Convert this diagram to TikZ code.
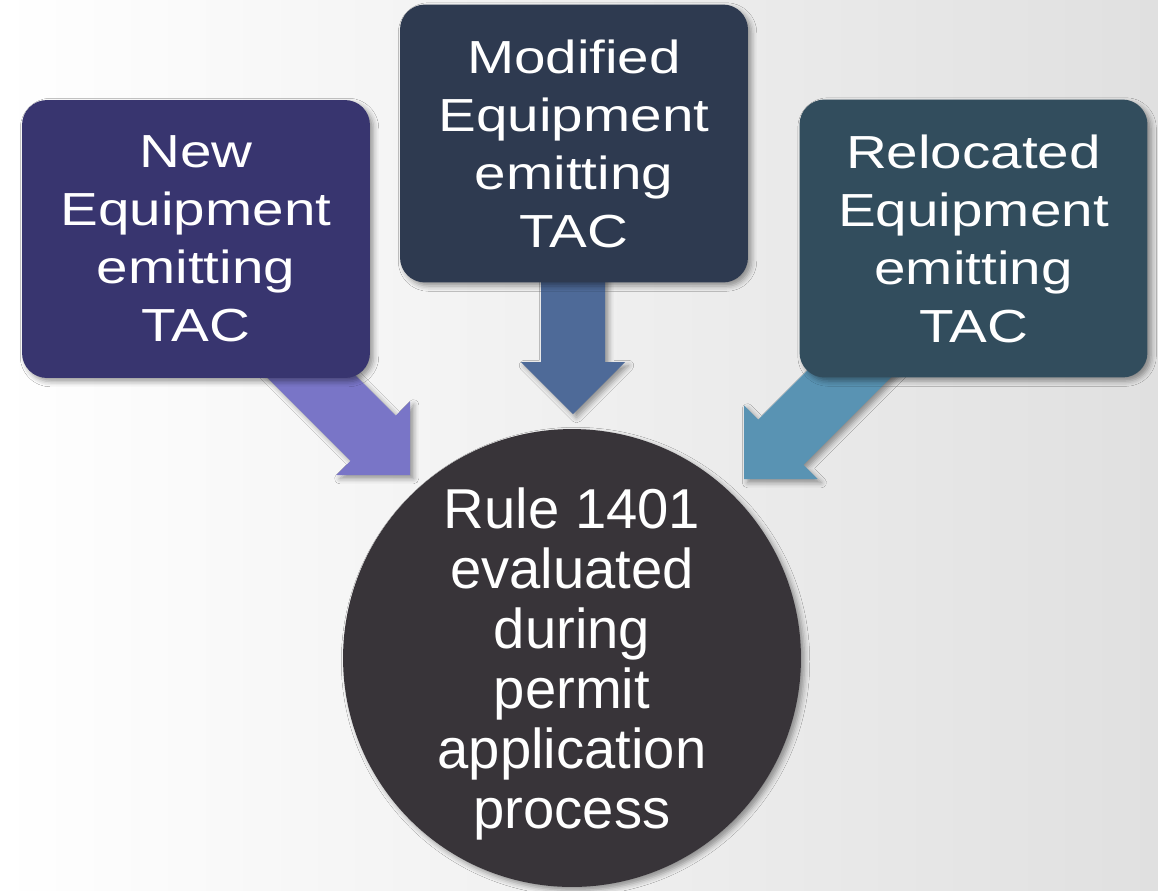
\documentclass[tikz,border=0pt]{standalone}
\usepackage{fontspec}
\setmainfont{Liberation Sans}
\newfontfamily\boxfont[FakeStretch=1.22]{Liberation Sans}
\usetikzlibrary{shadows.blur}

\definecolor{newcol}{RGB}{56,53,111}
\definecolor{modcol}{RGB}{46,58,80}
\definecolor{relcol}{RGB}{50,77,93}
\definecolor{newarrow}{RGB}{121,117,199}
\definecolor{modarrow}{RGB}{78,106,152}
\definecolor{relarrow}{RGB}{89,147,179}
\definecolor{rulecol}{RGB}{56,52,57}
\definecolor{bggray}{RGB}{224,224,224}

\begin{document}
\begin{tikzpicture}[
		x=0.02cm, y=-0.02cm,
		soft/.style={blur shadow={shadow xshift=2pt, shadow yshift=-2pt, shadow blur radius=3pt, shadow opacity=40}},
		box/.style={rectangle, rounded corners=0.5cm, minimum width=6.96cm, minimum height=5.56cm,
			inner sep=0pt, text=white, align=center, soft,
			font=\boxfont\fontsize{26.4}{33}\selectfont},
		rule/.style={circle, minimum size=9.16cm, inner sep=0pt, fill=rulecol, text=white, align=center, soft,
			text depth=0pt, font=\fontsize{32}{34.1}\selectfont},
		flow/.style={soft}
		]
	
		% fond
		\useasboundingbox (0,0) rectangle (1158,890);
		\shade[left color=white, right color=bggray] (0,0) rectangle (1158,890);
	
		% pointes des flèches
		\coordinate (tipN) at (410,475);
		\coordinate (tipM) at (573,414);
		\coordinate (tipR) at (744,479);
	
		\fill[flow, fill=newarrow, shift={(tipN)}, rotate=-45] (0,0) -- (-52,52) -- (-52,32) -- (-200,32) -- (-200,-32) -- (-52,-32) -- (-52,-52) -- cycle;
		\fill[flow, fill=modarrow, shift={(tipM)}, rotate=-90] (0,0) -- (-52,52) -- (-52,32) -- (-200,32) -- (-200,-32) -- (-52,-32) -- (-52,-52) -- cycle;
		\fill[flow, fill=relarrow, shift={(tipR)}, rotate=-135] (0,0) -- (-52,52) -- (-52,32) -- (-200,32) -- (-200,-32) -- (-52,-32) -- (-52,-52) -- cycle;
	
		% boîtes
		\node[box, fill=newcol] (new) at (196,239) {New\\Equipment\\emitting\\TAC};
		\node[box, fill=modcol] (mod) at (574,143.5) {Modified\\Equipment\\emitting\\TAC};
		\node[box, fill=relcol] (rel) at (973.5,238.5) {Relocated\\Equipment\\emitting\\TAC};
	
		% cercle
		\node[rule] (rule) at (572,658) {Rule 1401\\evaluated\\during\\permit\\application\\process};
	\end{tikzpicture}
\end{document}
